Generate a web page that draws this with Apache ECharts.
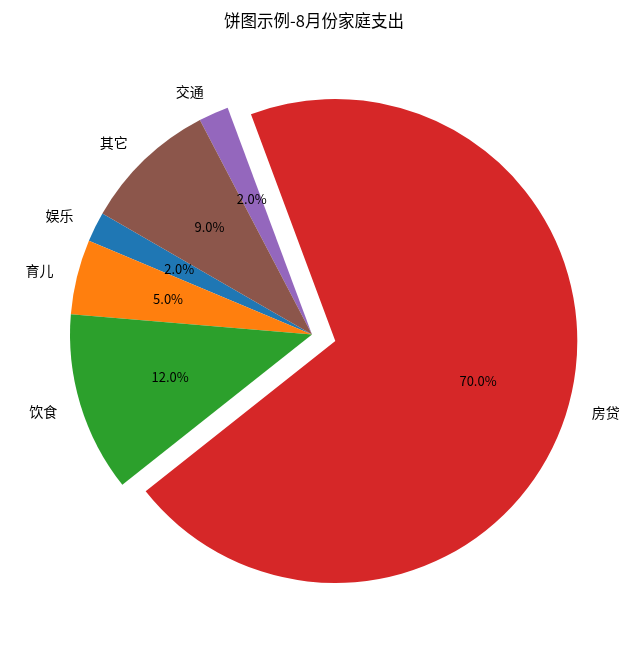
<!DOCTYPE html>
<html>
<head>
<meta charset="utf-8">
<script src="https://cdn.jsdelivr.net/npm/echarts@6/dist/echarts.min.js"></script>
<style>
html,body{margin:0;padding:0;background:#fff;}
#chart{width:628px;height:646px;}
</style>
</head>
<body>
<div id="chart"></div>
<script>
const categories = ['娱乐', '育儿', '饮食', '房贷', '交通', '其它'];
const values = [2, 5, 12, 70, 2, 9];
const explodeIndex = 3;
const explodeFrac = 0.1;
const colors = ['#1f77b4', '#ff7f0e', '#2ca02c', '#d62728', '#9467bd', '#8c564b'];

const CX = 312, CY = 334.5, R = 242, START = 150;
const FONT = "'Noto Sans CJK SC', 'Noto Sans', sans-serif";

const total = values.reduce((a, b) => a + b, 0);
let before = 0;
for (let i = 0; i < explodeIndex; i++) before += values[i];
const midDeg = START + (before + values[explodeIndex] / 2) / total * 360;
const midRad = midDeg * Math.PI / 180;
const shift = explodeFrac * R;
const ECX = CX + shift * Math.cos(midRad);
const ECY = CY - shift * Math.sin(midRad);

function buildData(visibleFn, labelShowFn) {
  return categories.map((c, i) => ({
    name: c,
    value: values[i],
    itemStyle: { color: visibleFn(i) ? colors[i] : 'rgba(0,0,0,0)' },
    label: { show: labelShowFn(i) }
  }));
}

function fillSeries(center, visibleFn) {
  return {
    type: 'pie',
    center: center,
    radius: [0, R],
    startAngle: START,
    clockwise: false,
    avoidLabelOverlap: false,
    silent: true,
    animation: false,
    itemStyle: { borderWidth: 0 },
    label: {
      show: true,
      position: 'outside',
      formatter: '{b}',
      fontFamily: FONT,
      fontSize: 14,
      color: '#000',
      distanceToLabelLine: 0
    },
    labelLine: { show: false, length: explodeFrac * R, length2: 0 },
    emphasis: { disabled: true },
    data: buildData(visibleFn, visibleFn)
  };
}

function pctSeries(center, showFn) {
  return {
    type: 'pie',
    center: center,
    radius: [0.2 * R, R],
    startAngle: START,
    clockwise: false,
    avoidLabelOverlap: false,
    silent: true,
    animation: false,
    itemStyle: { color: 'rgba(0,0,0,0)', borderWidth: 0 },
    label: {
      show: true,
      position: 'inside',
      formatter: p => p.percent.toFixed(1) + '%',
      fontFamily: FONT,
      fontSize: 13,
      color: '#000'
    },
    labelLine: { show: false },
    emphasis: { disabled: true },
    data: buildData(() => false, showFn)
  };
}

const chart = echarts.init(document.getElementById('chart'), null, { renderer: 'canvas' });
chart.setOption({
  backgroundColor: '#fff',
  animation: false,
  title: {
    text: '饼图示例-8月份家庭支出',
    left: 'center',
    top: 7,
    textStyle: { fontFamily: FONT, fontSize: 16.5, fontWeight: 'normal', color: '#000' }
  },
  series: [
    fillSeries([CX, CY], i => i !== explodeIndex),
    fillSeries([ECX, ECY], i => i === explodeIndex),
    pctSeries([CX, CY], i => i !== explodeIndex),
    pctSeries([ECX, ECY], i => i === explodeIndex)
  ]
});
</script>
</body>
</html>
